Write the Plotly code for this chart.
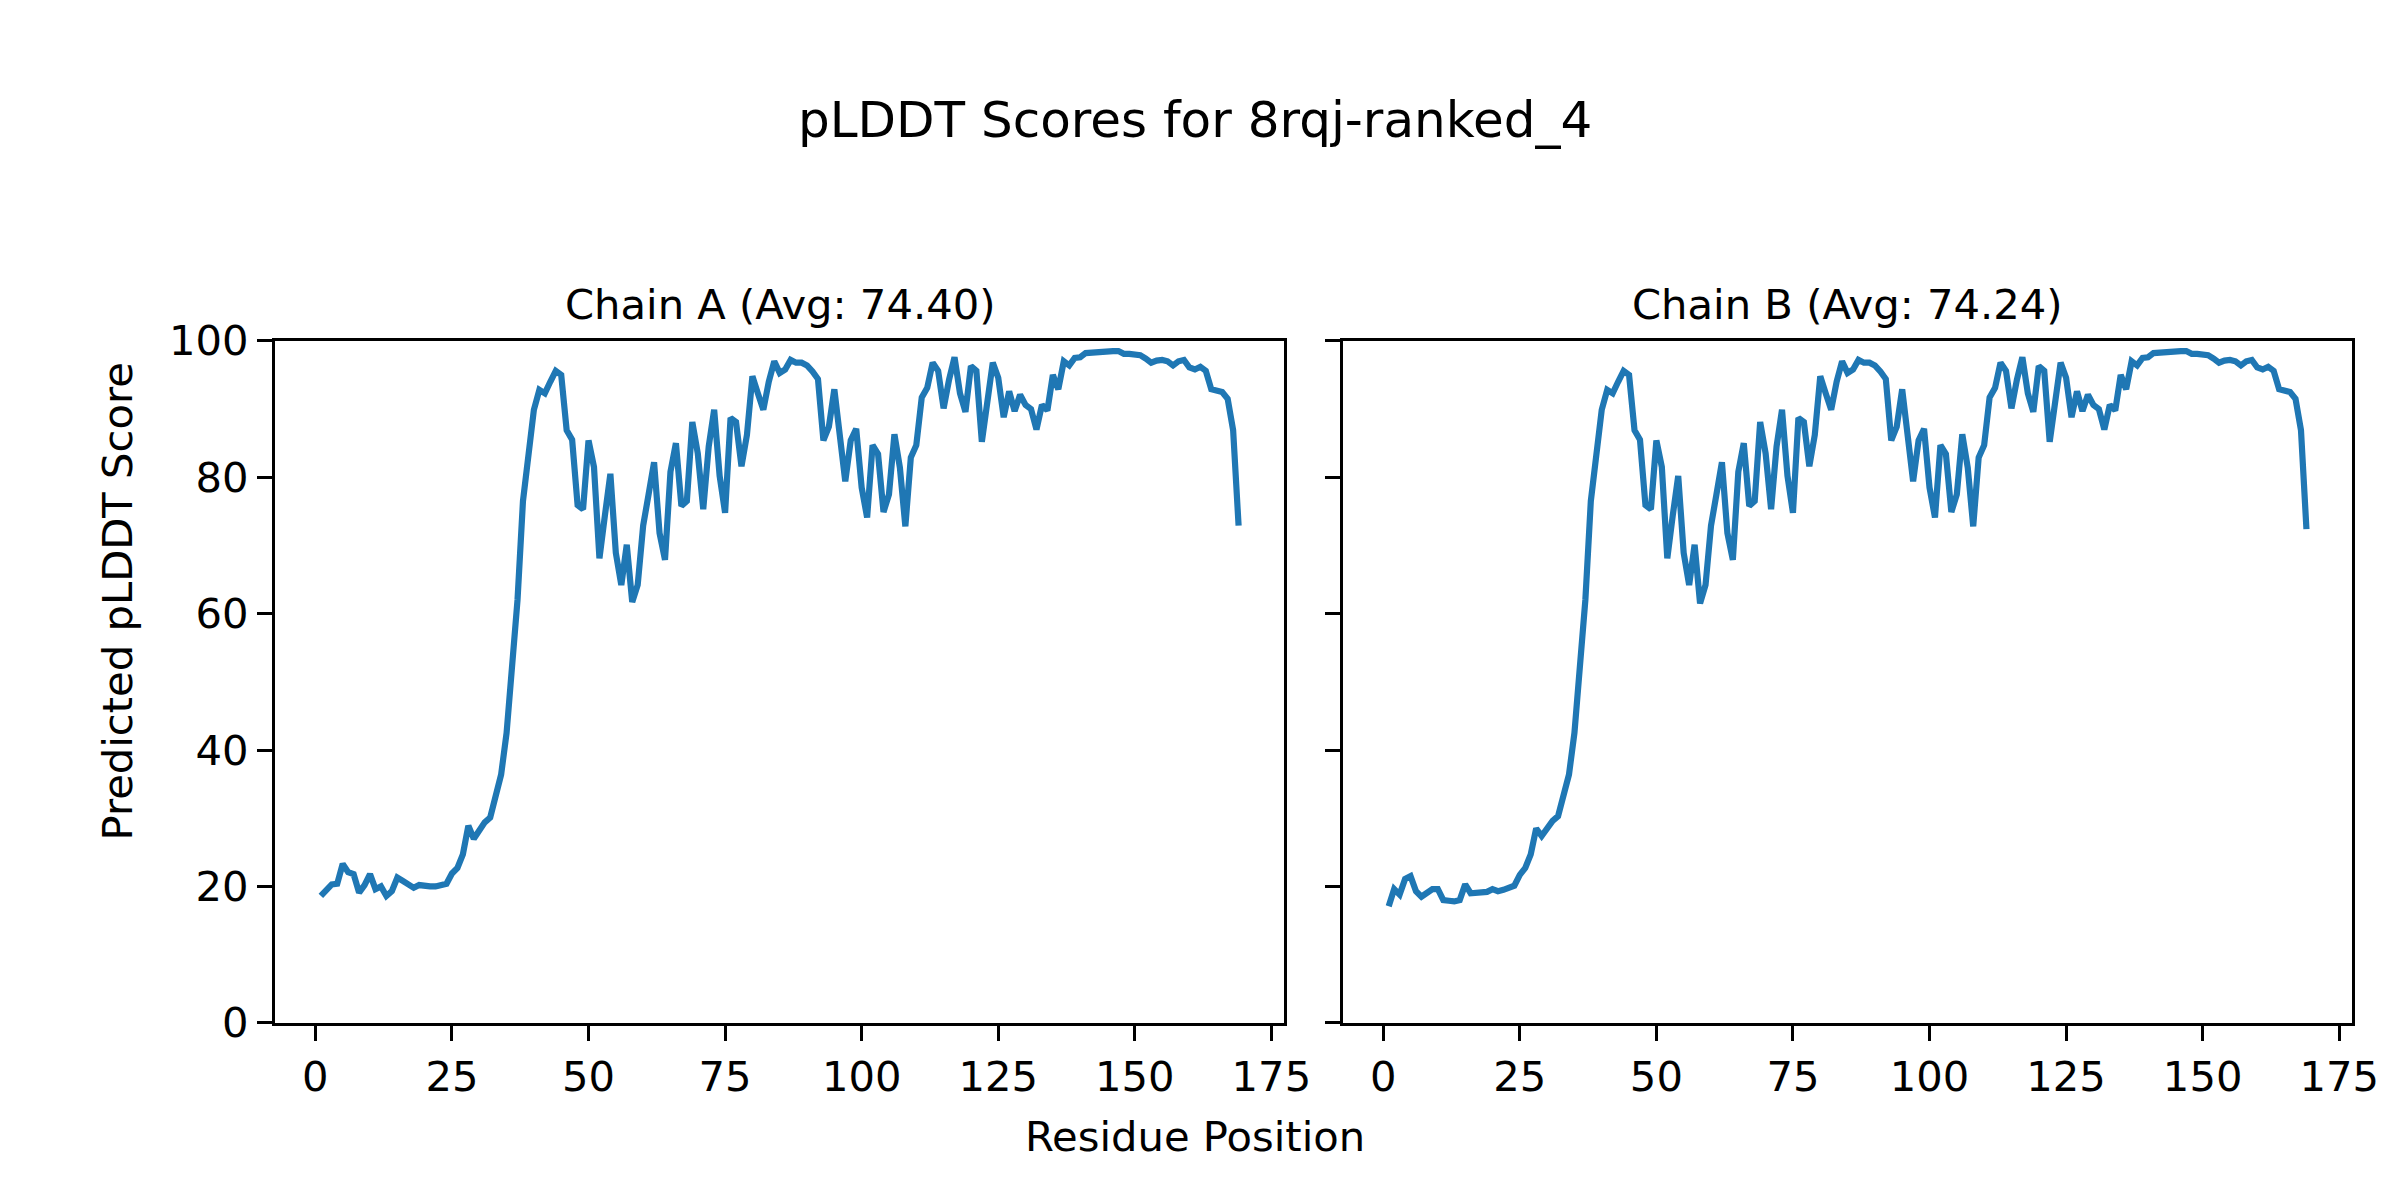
import plotly.graph_objects as go

residues = list(range(1, 170))

chain_a = [
    18.6, 19.6, 20.3, 20.4, 23.3, 22.1, 21.8, 19.1, 20.2, 21.8,
    19.6, 20.0, 18.6, 19.3, 21.3, 20.8, 20.4, 19.8, 20.2, 20.0,
    20.0, 20.0, 20.2, 20.4, 21.9, 22.7, 24.7, 28.9, 27.0, 28.4,
    29.4, 30.1, 33.1, 36.4, 42.5, 52.0, 62.0, 76.5, 82.9, 89.9,
    92.8, 92.3, 94.0, 95.6, 95.0, 86.9, 85.5, 75.9, 75.3, 85.4,
    81.5, 68.1, 74.4, 80.5, 68.9, 64.2, 70.1, 61.7, 64.2, 72.9,
    77.5, 82.2, 71.8, 67.9, 80.8, 85.0, 75.8, 76.5, 88.1, 83.5,
    75.3, 84.5, 89.9, 80.2, 74.8, 88.7, 88.1, 81.6, 86.2, 94.8,
    92.3, 89.9, 94.0, 97.0, 95.3, 95.8, 97.2, 96.8, 96.8, 96.4,
    95.5, 94.4, 85.4, 87.4, 92.9, 85.4, 79.4, 85.4, 87.1, 78.5,
    74.1, 84.7, 83.4, 74.9, 77.5, 86.3, 81.4, 72.8, 82.9, 84.7,
    91.7, 93.1, 96.8, 95.6, 90.1, 94.3, 97.6, 92.3, 89.6, 96.3,
    95.6, 85.2, 90.9, 96.8, 94.6, 88.8, 92.6, 89.7, 92.1, 90.6,
    90.0, 87.0, 90.6, 89.8, 95.0, 92.9, 97.0, 96.4, 97.5, 97.6,
    98.2, 98.3, 98.3, 98.3, 98.4, 98.5, 98.5, 98.1, 98.1, 97.9,
    97.9, 97.4, 96.8, 97.1, 97.2, 97.0, 96.4, 97.0, 97.2, 96.1,
    95.8, 96.2, 95.6, 92.9, 92.6, 92.5, 91.5, 86.9, 72.9,
]

chain_b = [
    17.1, 19.6, 18.8, 21.1, 21.5, 19.3, 18.5, 19.1, 19.6, 19.6,
    18.0, 17.9, 17.8, 18.0, 20.3, 19.0, 19.0, 19.2, 19.2, 19.6,
    19.3, 19.5, 19.9, 20.1, 21.7, 22.7, 24.7, 28.5, 27.4, 28.7,
    29.6, 30.3, 33.1, 36.4, 42.5, 52.0, 62.0, 76.5, 82.9, 89.9,
    92.8, 92.3, 94.0, 95.6, 95.0, 86.9, 85.5, 75.9, 75.3, 85.4,
    81.5, 68.1, 74.4, 80.2, 68.9, 64.2, 70.1, 61.5, 64.2, 72.9,
    77.5, 82.2, 71.8, 67.9, 80.8, 85.0, 75.8, 76.5, 88.1, 83.5,
    75.3, 84.5, 89.9, 80.2, 74.8, 88.7, 88.1, 81.6, 86.2, 94.8,
    92.3, 89.9, 94.0, 97.0, 95.3, 95.8, 97.2, 96.8, 96.8, 96.4,
    95.5, 94.4, 85.4, 87.4, 92.9, 85.4, 79.4, 85.4, 87.1, 78.5,
    74.1, 84.7, 83.4, 74.9, 77.5, 86.3, 81.4, 72.8, 82.9, 84.7,
    91.7, 93.1, 96.8, 95.6, 90.1, 94.3, 97.6, 92.3, 89.6, 96.3,
    95.6, 85.2, 90.9, 96.8, 94.6, 88.8, 92.6, 89.7, 92.1, 90.6,
    90.0, 87.0, 90.6, 89.8, 95.0, 92.9, 97.0, 96.4, 97.5, 97.6,
    98.2, 98.3, 98.3, 98.3, 98.4, 98.5, 98.5, 98.1, 98.1, 97.9,
    97.9, 97.4, 96.8, 97.1, 97.2, 97.0, 96.4, 97.0, 97.2, 96.1,
    95.8, 96.2, 95.6, 92.9, 92.6, 92.5, 91.5, 86.9, 72.4,
]

x_ticks = [0, 25, 50, 75, 100, 125, 150, 175]
y_ticks = [0, 20, 40, 60, 80, 100]

main_title = "pLDDT Scores for 8rqj-ranked_4"
titles = ["Chain A (Avg: 74.40)", "Chain B (Avg: 74.24)"]
x_label = "Residue Position"
y_label = "Predicted pLDDT Score"

W, H = 2400, 1200
FONT = "DejaVu Sans"
LINE_COLOR = "#1f77b4"

ax_a = (270.0, 1291.0)
ax_b = (1350.0, 2371.0)
ax_top, ax_bot = 322.0, 1033.0


def px_x(v):
    return v / W


def px_y(v):
    return 1 - v / H


fig = go.Figure()
fig.add_trace(go.Scatter(x=residues, y=chain_a, mode="lines",
                         line=dict(color=LINE_COLOR, width=6.2),
                         xaxis="x", yaxis="y", showlegend=False))
fig.add_trace(go.Scatter(x=residues, y=chain_b, mode="lines",
                         line=dict(color=LINE_COLOR, width=6.2),
                         xaxis="x2", yaxis="y2", showlegend=False))

axis_common = dict(
    showline=True, mirror=True, linecolor="black", linewidth=3.3,
    ticks="outside", ticklen=15, tickwidth=3.3, tickcolor="black",
    showgrid=False, zeroline=False,
    tickfont=dict(family=FONT, size=41.7, color="black"),
)

xr = [-7.4, 177.4]
fig.update_layout(
    width=W, height=H,
    margin=dict(l=0, r=0, t=0, b=0),
    paper_bgcolor="white", plot_bgcolor="white",
    xaxis=dict(domain=[px_x(ax_a[0]), px_x(ax_a[1])], range=xr,
               tickvals=x_ticks, anchor="y", **axis_common),
    yaxis=dict(domain=[px_y(ax_bot), px_y(ax_top)], range=[0, 100],
               tickvals=y_ticks, anchor="x", **axis_common),
    xaxis2=dict(domain=[px_x(ax_b[0]), px_x(ax_b[1])], range=xr,
                tickvals=x_ticks, anchor="y2", **axis_common),
    yaxis2=dict(domain=[px_y(ax_bot), px_y(ax_top)], range=[0, 100],
                tickvals=y_ticks, anchor="x2", showticklabels=False,
                **axis_common),
)

annots = [
    dict(text=main_title, x=0.5, y=px_y(92), font=dict(size=50)),
    dict(text=titles[0], x=px_x((ax_a[0] + ax_a[1]) / 2), y=px_y(284), font=dict(size=41.7)),
    dict(text=titles[1], x=px_x((ax_b[0] + ax_b[1]) / 2), y=px_y(284), font=dict(size=41.7)),
    dict(text=x_label, x=0.5, y=px_y(1152), font=dict(size=41.7)),
    dict(text=y_label, x=px_x(111), y=px_y(594), font=dict(size=41.7), textangle=-90),
]
for a in annots:
    a["font"].update(family=FONT, color="black")
    fig.add_annotation(xref="paper", yref="paper", showarrow=False,
                       xanchor="center", yanchor="middle", **a)

fig.write_html("out.html")
